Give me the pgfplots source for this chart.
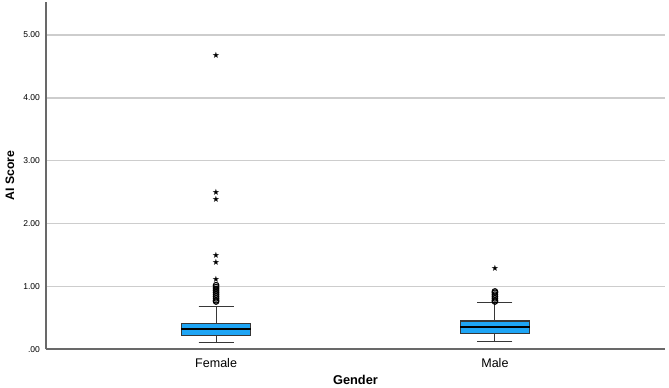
\documentclass[border=0pt]{standalone}
\usepackage{pgfplots}
\pgfplotsset{compat=1.18}
\usepgfplotslibrary{statistics}
\usepackage{fontspec}
\setmainfont{Liberation Sans}
\newfontfamily\symfont{DejaVu Sans}
\definecolor{boxblue}{RGB}{30,165,245}
\definecolor{axisgray}{RGB}{105,105,105}
\definecolor{gridgray}{RGB}{205,205,205}
\definecolor{edgegray}{RGB}{55,55,55}
\begin{document}
\begin{tikzpicture}[x=0.75pt,y=0.75pt]
\path[use as bounding box] (-46,-38.7) rectangle (623,349.3);
\begin{axis}[
  at={(0,0)}, anchor=south west,
  scale only axis,
  width=619*0.75pt, height=347.3*0.75pt,
  xmin=0.39, xmax=2.61,
  ymin=0, ymax=5.525,
  axis x line=bottom, axis y line=left,
  axis line style={axisgray, line width=1.3pt, -},
  xtick={1,2}, xticklabels={Female,Male},
  ytick={0,1,2,3,4,5}, yticklabels={.00,1.00,2.00,3.00,4.00,5.00},
  major tick length=0pt,
  ymajorgrids, grid style={gridgray, line width=1.1pt},
  /pgf/number format/assume math mode=true,
  yticklabel style={font=\fontsize{6.4}{7}\selectfont, xshift=-1pt},
  xticklabel style={font=\fontsize{9.4}{11}\selectfont, yshift=-3pt},
  xlabel={\bfseries Gender}, ylabel={\bfseries AI Score},
  xlabel style={font=\fontsize{9.6}{11}\selectfont, yshift=1pt},
  ylabel style={font=\fontsize{9.2}{11}\selectfont, yshift=0pt},
  clip=false,
  boxplot/draw direction=y,
  boxplot/box extend=0.25,
  boxplot/whisker extend=0.125,
  boxplot/every median/.style={black, line width=1.3pt},
  boxplot/every whisker/.style={edgegray, line width=0.8pt},
]
% Female
\addplot[fill=boxblue, draw=edgegray, line width=0.8pt,
  boxplot prepared={draw position=1, lower whisker=0.111, lower quartile=0.216,
    median=0.318, upper quartile=0.414, upper whisker=0.684}]
  coordinates {};
% Male
\addplot[fill=boxblue, draw=edgegray, line width=0.8pt,
  boxplot prepared={draw position=2, lower whisker=0.12, lower quartile=0.255,
    median=0.355, upper quartile=0.45, upper whisker=0.74}]
  coordinates {};
% Outliers
\addplot[only marks, mark=o, mark size=2.1pt, mark options={black, line width=0.8pt}]
  coordinates {(1,0.76)(1,0.78)(1,0.81)(1,0.84)(1,0.87)(1,0.90)(1,0.93)(1,0.96)(1,0.99)(1,1.02)
               (2,0.76)(2,0.78)(2,0.81)(2,0.84)(2,0.87)(2,0.90)(2,0.92)};
% Extreme values
\addplot[only marks, mark=text,
  text mark={\symfont\fontsize{6.5}{6.5}\selectfont ★}]
  coordinates {(1,1.11)(1,1.39)(1,1.50)(1,2.39)(1,2.49)(1,4.68)(2,1.29)};
\end{axis}
\end{tikzpicture}
\end{document}
